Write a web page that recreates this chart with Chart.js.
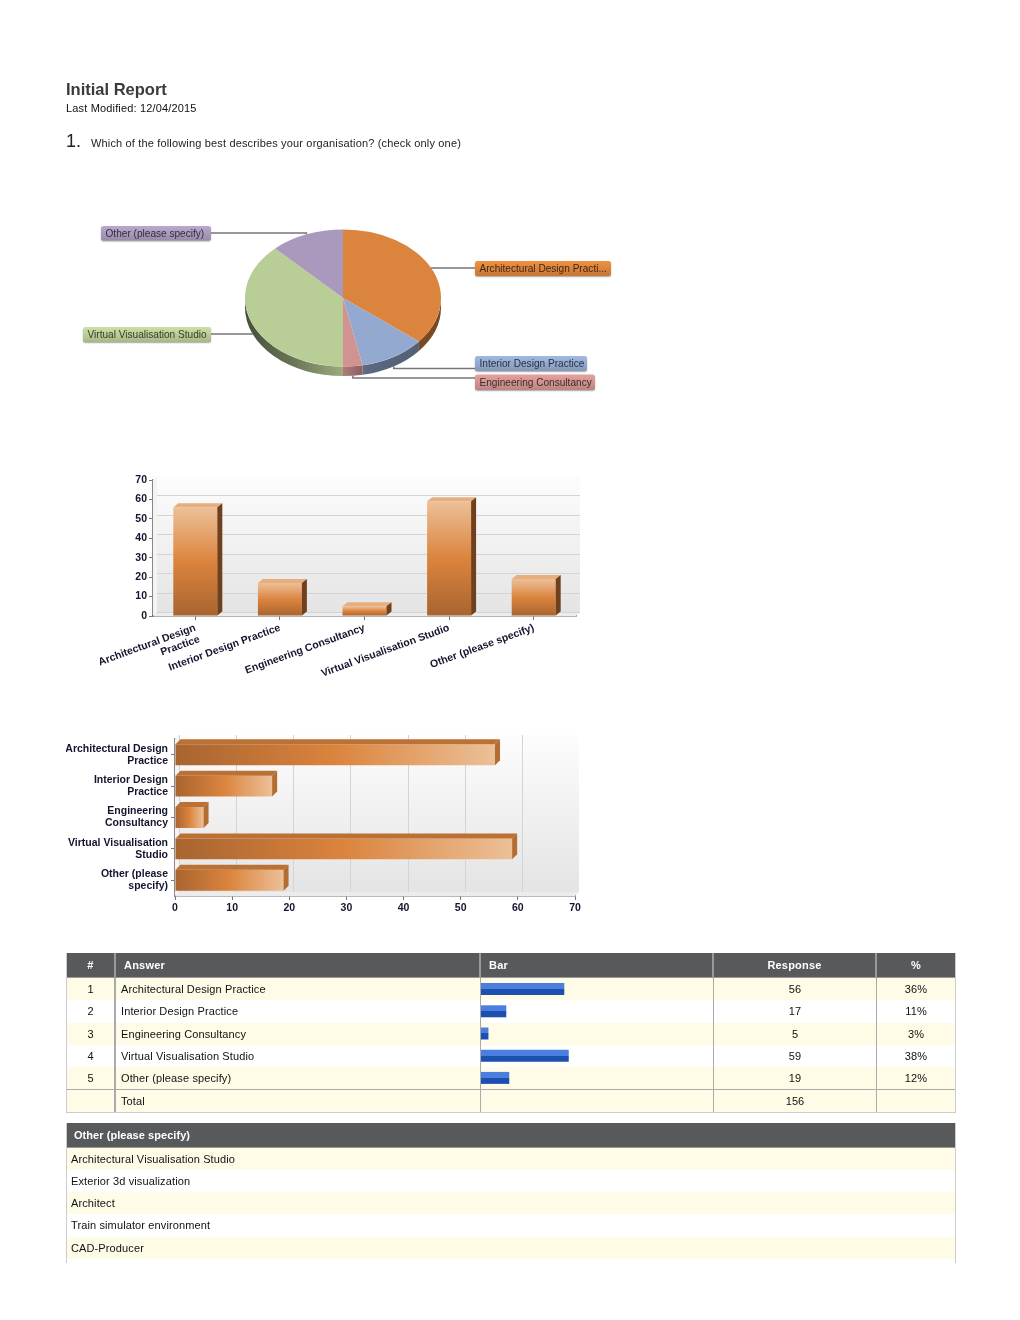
<!DOCTYPE html>
<html><head><meta charset="utf-8">
<script src="https://cdn.jsdelivr.net/npm/chart.js@4/dist/chart.umd.min.js"></script>
<style>
html,body{margin:0;padding:0;background:#fff;width:1020px;height:1320px;overflow:hidden}
#page{position:absolute;left:0;top:0;width:1020px;height:1320px;filter:blur(.5px);font-family:"Liberation Sans",Arial,sans-serif;color:#111}
.t{position:absolute;white-space:nowrap;line-height:1}
canvas{position:absolute;display:block}
.grid{position:absolute;display:grid;box-sizing:border-box;font-size:11px;letter-spacing:.12px}
.grid>div{display:flex;align-items:center;box-sizing:border-box;border-right:1px solid #aaa;white-space:nowrap;overflow:hidden}
.grid>div.last{border-right:0}
.grid>.h{background:#58595b;color:#fff;font-weight:bold;letter-spacing:.2px;justify-content:center;border-right:2px solid #999;border-bottom:1px solid #999}
.c{justify-content:center}
.l{padding-left:5px}
.odd{background:#fefbe6}.even{background:#fff}
</style></head><body>
<div id="page">
<div class="t" style="left:66px;top:81px;font-size:16.5px;font-weight:bold;color:#3a3a3a">Initial Report</div>
<div class="t" style="left:66px;top:103px;font-size:11px;letter-spacing:.16px">Last Modified: 12/04/2015</div>
<div class="t" style="left:66px;top:132px;font-size:18px;color:#222">1.</div>
<div class="t" style="left:91px;top:137.5px;font-size:11px;color:#222;letter-spacing:.16px">Which of the following best describes your organisation? (check only one)</div>

<canvas id="pie" width="554" height="196" style="left:66px;top:200px"></canvas>
<canvas id="vbar" width="520" height="220" style="left:66.5px;top:470px"></canvas>
<canvas id="hbar" width="525" height="190" style="left:66px;top:730px"></canvas>

<div id="tbl" class="grid" style="left:66px;top:953px;width:890px;grid-template-columns:49px 365px 233px 163px 78px;grid-template-rows:25px repeat(5,22.25px) 23px;border-right:1px solid #ccc;border-left:1px solid #ccc;border-bottom:1px solid #ccc"></div>
<canvas id="tbar" width="232" height="111" style="left:481px;top:978px"></canvas>
<div id="other" class="grid" style="left:66px;top:1123px;width:890px;grid-template-columns:1fr;grid-template-rows:24.5px repeat(5,22.25px) 4px;border-right:1px solid #ccc;border-left:1px solid #ccc"></div>
</div>
<script>
// ---- data ----
const categories = ['Architectural Design Practice','Interior Design Practice','Engineering Consultancy','Virtual Visualisation Studio','Other (please specify)'];
const responses = [56,17,5,59,19];
const percents = ['36%','11%','3%','38%','12%'];
const responseTotal = 156;
const pieLabels = ['Architectural Design Practi...','Interior Design Practice','Engineering Consultancy','Virtual Visualisation Studio','Other (please specify)'];
const columnLabels = [['Architectural Design','Practice'],'Interior Design Practice','Engineering Consultancy','Virtual Visualisation Studio','Other (please specify)'];
const rowLabels = [['Architectural Design','Practice'],['Interior Design','Practice'],['Engineering','Consultancy'],['Virtual Visualisation','Studio'],['Other (please','specify)']];
const tableHeaders = ['#','Answer','Bar','Response','%'];
const otherHeader = 'Other (please specify)';
const otherAnswers = ['Architectural Visualisation Studio','Exterior 3d visualization','Architect','Train simulator environment','CAD-Producer'];
const axisMax = 70;
const axisStep = 10;

// ---- styles ----
const pieColors = ['#DB843D','#93A9CF','#D19392','#B9CD96','#A99ABD'];
const pieBoxes = [
 {x:409,y:61,w:136,h:15,line:68},
 {x:409,y:156,w:112,h:15,line:168.5},
 {x:409,y:174.5,w:120,h:15.5,line:178},
 {x:17,y:127,w:128,h:15,line:134},
 {x:35,y:26,w:110,h:14.5,line:33}
];
const FONT = '"Liberation Sans",Arial,sans-serif';
const axisFont = {family:FONT,size:10.5,weight:'bold',lineHeight:12/10.5};
const axisColor = '#14142e';
Chart.defaults.animation = false;
Chart.defaults.responsive = false;
Chart.defaults.plugins.legend.display = false;
Chart.defaults.plugins.tooltip.enabled = false;

// ---- table ----
function cell(host,cls,txt){const d=document.createElement('div');d.className=cls;d.textContent=txt;host.appendChild(d);return d;}
const tbl=document.getElementById('tbl');
tableHeaders.forEach((h,i)=>{const d=cell(tbl,'h'+(i==4?' last':''),h);if(i==1||i==2){d.style.justifyContent='flex-start';d.style.paddingLeft='8px';}if(i==0)d.style.borderRightWidth='2px';});
categories.forEach((c,i)=>{const r=i%2?'even':'odd';
 cell(tbl,r+' c',i+1).style.borderRight='2px solid #aaa';cell(tbl,r+' l',c);cell(tbl,r,'');cell(tbl,r+' c',responses[i]);cell(tbl,r+' c last',percents[i]);});
['','Total','',responseTotal,''].forEach((v,i)=>{const d=cell(tbl,'odd'+(i==1?' l':' c')+(i==4?' last':''),v);d.style.borderTop='1px solid #aaa';if(i==0)d.style.borderRight='2px solid #aaa';});
const oth=document.getElementById('other');
{const d=cell(oth,'h last',otherHeader);d.style.justifyContent='flex-start';d.style.paddingLeft='7px';d.style.borderRight='0';d.style.letterSpacing='.05px';}
otherAnswers.forEach((a,i)=>{cell(oth,(i%2?'even':'odd')+' l last',a).style.paddingLeft='4px';});
cell(oth,'even last','');

// ---- pie ----
const pieK=0.7, pieDepth=9.5;
function shade(hex,f){const n=parseInt(hex.slice(1),16),m=v=>Math.min(255,v*f|0);return `rgb(${m(n>>16)},${m((n>>8)&255)},${m(n&255)})`;}
const pie3d={id:'pie3d',
 beforeDatasetsDraw(chart){
  const ctx=chart.ctx, arcs=chart.getDatasetMeta(0).data;
  const a0=arcs[0], cx=a0.x, cy=a0.y, r=a0.outerRadius, ry=r*pieK;
  arcs.forEach((a,i)=>{
   [[0,Math.PI],[2*Math.PI,3*Math.PI]].forEach(([lo,hi])=>{
    const s=Math.max(a.startAngle,lo), e=Math.min(a.endAngle,hi);
    if(e<=s) return;
    const g=ctx.createLinearGradient(cx-r,0,cx+r,0);
    g.addColorStop(0,shade(pieColors[i],.38));g.addColorStop(.25,shade(pieColors[i],.58));
    g.addColorStop(.5,shade(pieColors[i],.84));g.addColorStop(.62,shade(pieColors[i],.62));g.addColorStop(1,shade(pieColors[i],.55));
    ctx.fillStyle=g;ctx.beginPath();
    ctx.ellipse(cx,cy,r,ry,0,s,e);
    ctx.ellipse(cx,cy+pieDepth,r,ry,0,e,s,true);
    ctx.closePath();ctx.fill();
   });
  });
  ctx.save();ctx.translate(cx,cy);ctx.scale(1,pieK);ctx.translate(-cx,-cy);
 },
 afterDatasetsDraw(chart){
  const ctx=chart.ctx;ctx.restore();
  const arcs=chart.getDatasetMeta(0).data;
  arcs.forEach((a,i)=>{
   const m=(a.startAngle+a.endAngle)/2, b=pieBoxes[i];
   const px=a.x+Math.cos(m)*a.outerRadius;
   let py=a.y+Math.sin(m)*a.outerRadius*pieK; if(Math.sin(m)>0) py+=pieDepth;
   const right=b.x>a.x;
   ctx.strokeStyle='#777';ctx.lineWidth=1.5;ctx.beginPath();ctx.moveTo(px,py);ctx.lineTo(px,b.line);ctx.lineTo(right?b.x:b.x+b.w,b.line);ctx.stroke();
   ctx.save();ctx.shadowColor='rgba(0,0,0,.35)';ctx.shadowBlur=1.5;ctx.shadowOffsetY=1;
   const g=ctx.createLinearGradient(0,b.y,0,b.y+b.h);
   g.addColorStop(0,shade(pieColors[i],1.1));g.addColorStop(.5,pieColors[i]);g.addColorStop(1,shade(pieColors[i],.9));
   ctx.fillStyle=g;ctx.beginPath();ctx.roundRect(b.x,b.y,b.w,b.h,2.5);ctx.fill();ctx.restore();
   ctx.fillStyle=shade(pieColors[i],.3);ctx.font='10.1px '+FONT;ctx.textBaseline='middle';ctx.textAlign='left';
   ctx.fillText(pieLabels[i],b.x+4.5,b.y+b.h/2+.5);
  });
 }};
new Chart(document.getElementById('pie'),{type:'pie',
 data:{labels:categories,datasets:[{data:responses,backgroundColor:pieColors,borderWidth:0}]},
 options:{layout:{padding:0}},plugins:[pie3d]});

// ---- 3D scaffolding ----
function box3d(o){return {id:'box3d',
 beforeDatasetsDraw(chart){
  const ctx=chart.ctx,{left:l,right:r,top:t,bottom:b}=chart.chartArea,w=o.wall;
  const g=ctx.createLinearGradient(0,t-w,0,b-w);g.addColorStop(0,'#fdfdfd');g.addColorStop(1,'#e4e4e4');
  ctx.fillStyle=g;ctx.fillRect(l+w,t-w,r-l,b-t);
  ctx.fillStyle='#f4f4f4';ctx.beginPath();ctx.moveTo(l,t);ctx.lineTo(l+w,t-w);ctx.lineTo(l+w,b-w);ctx.lineTo(l,b);ctx.fill();
  ctx.fillStyle='#ececec';ctx.beginPath();ctx.moveTo(l,b);ctx.lineTo(l+w,b-w);ctx.lineTo(r+w,b-w);ctx.lineTo(r,b);ctx.fill();
  ctx.strokeStyle='#d4d4d4';ctx.lineWidth=1;ctx.beginPath();
  const s=chart.scales[o.valueAxis];
  s.ticks.forEach((tk,i)=>{if(i===s.ticks.length-1) return;const p=Math.round(s.getPixelForTick(i))+.5;
   if(o.valueAxis==='y'){ctx.moveTo(l+w,p-w);ctx.lineTo(r+w,p-w);}else{ctx.moveTo(p+w,t-w);ctx.lineTo(p+w,b-w);}});
  ctx.stroke();
 },
 afterDatasetsDraw(chart){
  const ctx=chart.ctx;
  chart.getDatasetMeta(0).data.forEach(e=>{
   const d=o.dx,h=o.dy;let top,side;
   if(o.valueAxis==='y'){const x0=e.x-e.width/2,x1=e.x+e.width/2;
    top=[[x0,e.y],[x0+d,e.y-h],[x1+d,e.y-h],[x1,e.y]];
    side=[[x1,e.y],[x1+d,e.y-h],[x1+d,e.base-h],[x1,e.base]];
   }else{const y0=e.y-e.height/2,y1=e.y+e.height/2;
    top=[[e.base,y0],[e.base+d,y0-h],[e.x+d,y0-h],[e.x,y0]];
    side=[[e.x,y0],[e.x+d,y0-h],[e.x+d,y1-h],[e.x,y1]];
   }
   [[top,o.topColor],[side,o.sideColor]].forEach(([pts,c])=>{ctx.fillStyle=c;ctx.beginPath();pts.forEach((p,i)=>i?ctx.lineTo(p[0],p[1]):ctx.moveTo(p[0],p[1]));ctx.closePath();ctx.fill();});
  });
 }};}
const dark='#a86430',mid='#db843d',light='#ecc098';
function barGrad(c,horizontal){
 const ch=c.chart;if(!ch.chartArea) return mid;
 const s=ch.scales[horizontal?'x':'y'],a=s.getPixelForValue(0),b=s.getPixelForValue(responses[c.dataIndex]);
 const g=horizontal?ch.ctx.createLinearGradient(a,0,b,0):ch.ctx.createLinearGradient(0,a,0,b);
 g.addColorStop(0,dark);g.addColorStop(.5,mid);g.addColorStop(1,light);return g;
}
const valueTicks={font:axisFont,color:axisColor,stepSize:axisStep};
const axisGrid={drawOnChartArea:false,tickLength:4,color:'#777'};
const catGrid={...axisGrid,offset:false};

new Chart(document.getElementById('vbar'),{type:'bar',
 data:{labels:columnLabels,datasets:[{data:responses,backgroundColor:c=>barGrad(c,false),borderWidth:0,categoryPercentage:1,barPercentage:.52}]},
 options:{layout:{padding:{top:10,right:11,left:0,bottom:0}},
  scales:{
   y:{min:0,max:axisMax,ticks:{...valueTicks,padding:2},grid:axisGrid,border:{color:'#888',width:1.5},afterFit(s){s.width=86;}},
   x:{ticks:{font:axisFont,color:axisColor,minRotation:20,maxRotation:20,autoSkip:false,padding:2},grid:catGrid,border:{color:'#666',width:1.5},afterFit(s){s.height=74;}}
  }},
 plugins:[box3d({valueAxis:'y',wall:4,dx:5,dy:4,topColor:'#e8ae7d',sideColor:'#70401c'})]});

new Chart(document.getElementById('hbar'),{type:'bar',
 data:{labels:rowLabels,datasets:[{data:responses,backgroundColor:c=>barGrad(c,true),borderWidth:0,categoryPercentage:1,barPercentage:.667}]},
 options:{indexAxis:'y',layout:{padding:{top:9,right:16,left:0,bottom:0}},
  scales:{
   x:{min:0,max:axisMax,ticks:{...valueTicks,padding:2.5},grid:axisGrid,border:{color:'#777',width:1.5},afterFit(s){s.height=24;}},
   y:{ticks:{font:axisFont,color:axisColor,padding:3,autoSkip:false},grid:catGrid,border:{color:'#888',width:1.5},afterFit(s){s.width=109;s.paddingTop=0;s.paddingBottom=0;}}
  }},
 plugins:[box3d({valueAxis:'x',wall:4,dx:5,dy:5,topColor:'#bb7134',sideColor:'#b56c30'})]});

// ---- bars inside the table ----
new Chart(document.getElementById('tbar'),{type:'bar',
 data:{labels:categories,datasets:[{data:responses,borderWidth:0,categoryPercentage:1,barPercentage:.54,
  backgroundColor:c=>{const ch=c.chart;if(!ch.chartArea)return '#1d4fae';
   const y=ch.scales.y.getPixelForValue(c.dataIndex),g=ch.ctx.createLinearGradient(0,y-6,0,y+6);
   g.addColorStop(0,'#4b7fdf');g.addColorStop(.5,'#4b7fdf');g.addColorStop(.5,'#1c4fae');g.addColorStop(1,'#1c4fae');return g;}}]},
 options:{indexAxis:'y',layout:{padding:0},scales:{x:{display:false,min:0,max:responseTotal},y:{display:false}}}});
</script>
</body></html>
